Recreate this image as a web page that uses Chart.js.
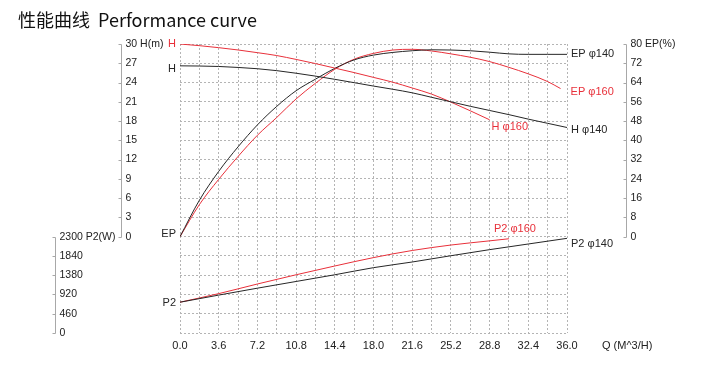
<!DOCTYPE html>
<html>
<head>
<meta charset="utf-8">
<title>性能曲线 Performance curve</title>
<script src="https://cdn.jsdelivr.net/npm/chart.js@4.4.1/dist/chart.umd.min.js"></script>
<style>
  body { margin: 0; background: #fff; }
  canvas { display: block; }
</style>
</head>
<body>
<canvas id="curve-chart" width="723" height="391"></canvas>
<script>
/* valores */
var q = [0, 1.8, 3.6, 5.4, 7.2, 9, 10.8, 12.6, 14.4, 16.2, 18, 19.8, 21.6, 23.4, 25.2, 27, 28.8, 30.6, 32.4, 34.2, 36];
var qH160 = [0, 1.8, 3.6, 5.4, 7.2, 9, 10.8, 12.6, 14.4, 16.2, 18, 19.8, 21.6, 23.4, 25.2, 27, 28.8];
var qEp160 = [0, 1.8, 3.6, 5.4, 7.2, 9, 10.8, 12.6, 14.4, 16.2, 18, 19.8, 21.6, 23.4, 25.2, 27, 28.8, 30.6, 32.4, 34.2, 35.4];
var qP2 = [0, 3.6, 7.2, 10.8, 14.4, 18, 21.6, 25.2, 28.8, 32.4, 36];
var qP2160 = [0, 3.6, 7.2, 10.8, 14.4, 18, 21.6, 25.2, 28.8, 30.6];

var h140 = [26.6, 26.57, 26.5, 26.35, 26.15, 25.85, 25.45, 25.0, 24.5, 23.98, 23.45, 22.95, 22.4, 21.7, 21.0, 20.3, 19.65, 19.0, 18.3, 17.65, 17.0];
var h160 = [30, 29.74, 29.43, 29.07, 28.65, 28.2, 27.6, 26.95, 26.25, 25.55, 24.8, 24.05, 23.15, 22.2, 20.95, 19.6, 18.2];
var ep140 = [0, 15.1, 27.1, 37.3, 46.4, 54.1, 60.6, 65.4, 69.9, 73.4, 75.4, 76.5, 77.2, 77.6, 77.5, 77.2, 76.6, 75.9, 75.7, 75.7, 75.7];
var ep160 = [0, 13.3, 23.8, 33.3, 42.1, 49.5, 57.2, 63.7, 69.5, 73.7, 76.1, 77.5, 77.8, 77.1, 75.9, 74.5, 72.7, 70.3, 67.6, 64.4, 61.5];
var p2140 = [735, 905, 1070, 1230, 1390, 1560, 1695, 1845, 1990, 2125, 2260];
var p2160 = [735, 940, 1170, 1390, 1600, 1800, 1970, 2100, 2200, 2250];

/* rótulos dos eixos */
var qLabels = [0, 3.6, 7.2, 10.8, 14.4, 18, 21.6, 25.2, 28.8, 32.4, 36];
var hTicks = [30, 27, 24, 21, 18, 15, 12, 9, 6, 3, 0];
var epTicks = [80, 72, 64, 56, 48, 40, 32, 24, 16, 8, 0];
var p2Ticks = [2300, 1840, 1380, 920, 460, 0];

var RED = '#e8303a';
var BLACK = '#262626';
var FONT = '"Liberation Sans", Arial, sans-serif';

function pares(xs, ys) {
  var out = [];
  for (var i = 0; i < ys.length; i++) out.push({x: xs[i], y: ys[i]});
  return out;
}

function serie(label, xs, ys, cor, eixo) {
  return {
    label: label,
    data: pares(xs, ys),
    borderColor: cor,
    borderWidth: 1,
    pointRadius: 0,
    fill: false,
    cubicInterpolationMode: 'monotone',
    yAxisID: eixo
  };
}

/* rótulos das curvas: dataset, ponto, dx, dy, texto */
var rotulos = [
  [1, 0, -4, 0, 'H', 'right'],
  [0, 0, -4, 3, 'H', 'right'],
  [2, 0, -4, -3, 'EP', 'right'],
  [4, 0, -4, 1, 'P2', 'right'],
  [2, -1, 4, 0, 'EP \u03c6140', 'left'],
  [3, -1, 10, 3, 'EP \u03c6160', 'left'],
  [0, -1, 4, 2, 'H \u03c6140', 'left'],
  [1, -1, 2, 7, 'H \u03c6160', 'left'],
  [5, -1, -15, -10, 'P2 \u03c6160', 'left'],
  [4, -1, 4, 6, 'P2 \u03c6140', 'left']
];

function eixo(ctx, x, scale, ticks, unidade) {
  ctx.strokeStyle = '#a8a8a8';
  ctx.lineWidth = 1;
  ctx.beginPath();
  ctx.moveTo(x, Math.round(scale.getPixelForValue(ticks[0])) + 0.5);
  ctx.lineTo(x, Math.round(scale.getPixelForValue(ticks[ticks.length - 1])) + 0.5);
  for (var i = 0; i < ticks.length; i++) {
    var y = Math.round(scale.getPixelForValue(ticks[i])) + 0.5;
    ctx.moveTo(x - 3, y);
    ctx.lineTo(x, y);
  }
  ctx.stroke();
  ctx.fillStyle = '#222';
  ctx.textAlign = 'left';
  for (var j = 0; j < ticks.length; j++) {
    var txt = String(ticks[j]) + (j === 0 ? unidade : '');
    ctx.fillText(txt, x + 4, scale.getPixelForValue(ticks[j]));
  }
}

var extras = {
  id: 'extras',
  afterDraw: function(chart) {
    var ctx = chart.ctx;
    var sx = chart.scales.x;
    ctx.save();
    ctx.textBaseline = 'middle';

    /* título */
    ctx.font = '18px "Noto Sans CJK SC", sans-serif';
    ctx.fillStyle = '#111';
    ctx.textAlign = 'left';
    ctx.fillText('性能曲线  Performance curve', 18, 20);

    ctx.font = '10.5px ' + FONT;
    eixo(ctx, 121.5, chart.scales.yH, hTicks, ' H(m)');
    eixo(ctx, 626.5, chart.scales.yEP, epTicks, ' EP(%)');
    eixo(ctx, 55.5, chart.scales.yP2, p2Ticks, ' P2(W)');

    /* eixo Q */
    ctx.font = '11px ' + FONT;
    ctx.fillStyle = '#222';
    ctx.textAlign = 'center';
    for (var i = 0; i < qLabels.length; i++) {
      ctx.fillText(qLabels[i].toFixed(1), sx.getPixelForValue(qLabels[i]), 346);
    }
    ctx.textAlign = 'left';
    ctx.fillText('Q (M^3/H)', 602, 346);

    /* nomes das curvas */
    ctx.font = '11px ' + FONT;
    for (var k = 0; k < rotulos.length; k++) {
      var r = rotulos[k];
      var pts = chart.getDatasetMeta(r[0]).data;
      var p = r[1] < 0 ? pts[pts.length - 1] : pts[r[1]];
      ctx.fillStyle = chart.data.datasets[r[0]].borderColor;
      ctx.textAlign = r[5];
      ctx.fillText(r[4], p.x + r[2], p.y + r[3]);
    }
    ctx.restore();
  }
};

var grade = {
  color: '#b4b4b4',
  lineWidth: 1,
  drawTicks: false
};

var ctx = document.getElementById('curve-chart').getContext('2d');
var chart = new Chart(ctx, {
  type: 'line',
  data: {
    datasets: [
      serie('H φ140', q, h140, BLACK, 'yH'),
      serie('H φ160', qH160, h160, RED, 'yH'),
      serie('EP φ140', q, ep140, BLACK, 'yEP'),
      serie('EP φ160', qEp160, ep160, RED, 'yEP'),
      serie('P2 φ140', qP2, p2140, BLACK, 'yP2'),
      serie('P2 φ160', qP2160, p2160, RED, 'yP2')
    ]
  },
  options: {
    responsive: false,
    animation: false,
    devicePixelRatio: 1,
    layout: {
      padding: {left: 180, right: 156, top: 44, bottom: 58}
    },
    plugins: {
      legend: { display: false },
      tooltip: { enabled: false }
    },
    scales: {
      x: {
        type: 'linear',
        min: 0,
        max: 36,
        ticks: { display: false, stepSize: 1.8 },
        grid: grade,
        border: { display: false, dash: [2, 2] }
      },
      yH: {
        type: 'linear',
        position: 'left',
        min: -15,
        max: 30,
        ticks: { display: false, stepSize: 3 },
        grid: grade,
        border: { display: false, dash: [2, 2] }
      },
      yEP: {
        type: 'linear',
        position: 'right',
        min: -40,
        max: 80,
        display: false
      },
      yP2: {
        type: 'linear',
        position: 'left',
        min: 0,
        max: 6900,
        display: false
      }
    }
  },
  plugins: [extras]
});
</script>
</body>
</html>
